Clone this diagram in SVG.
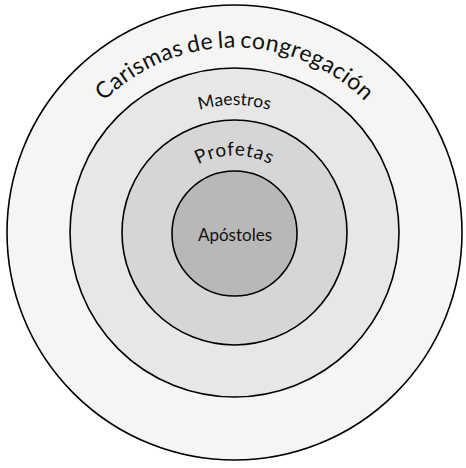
<svg xmlns="http://www.w3.org/2000/svg" width="466" height="468" viewBox="0 0 466 468">
<style>
.ring{stroke:#000;stroke-width:1.6}
.lbl{font-family:Lato,"Noto Sans",sans-serif;fill:#111}
</style>
<defs>
<path id="a1" d="M49.5,232.5 A185,185 0 0 1 419.5,232.5"/>
<path id="a2" d="M107,232.5 A127.5,127.5 0 0 1 362,232.5"/>
<path id="a3" d="M157.5,232.5 A77,77 0 0 1 311.5,232.5"/>
</defs>
<rect width="466" height="468" fill="#fff"/>
<g id="carismas">
<circle class="ring" cx="234.5" cy="232.5" r="227.5" fill="#f5f5f3"/>
<text class="lbl" font-size="23" letter-spacing="0.4" word-spacing="-2"><textPath href="#a1" startOffset="50%" text-anchor="middle">Carismas de la congregación</textPath></text>
</g>
<g id="maestros">
<circle class="ring" cx="234.5" cy="232.5" r="164.5" fill="#e7e7e6"/>
<text class="lbl" font-size="17.5"><textPath href="#a2" startOffset="50%" text-anchor="middle">Maestros</textPath></text>
</g>
<g id="profetas">
<circle class="ring" cx="234.5" cy="232.5" r="112.5" fill="#d6d6d6"/>
<text class="lbl" font-size="19" letter-spacing="0.8"><textPath href="#a3" startOffset="50%" text-anchor="middle">Profetas</textPath></text>
</g>
<g id="apostoles">
<circle class="ring" cx="234.5" cy="233.5" r="62.5" fill="#b8b8b8"/>
<text class="lbl" x="235" y="241" font-size="17" text-anchor="middle">Apóstoles</text>
</g>
<g id="connectors"/>
</svg>
